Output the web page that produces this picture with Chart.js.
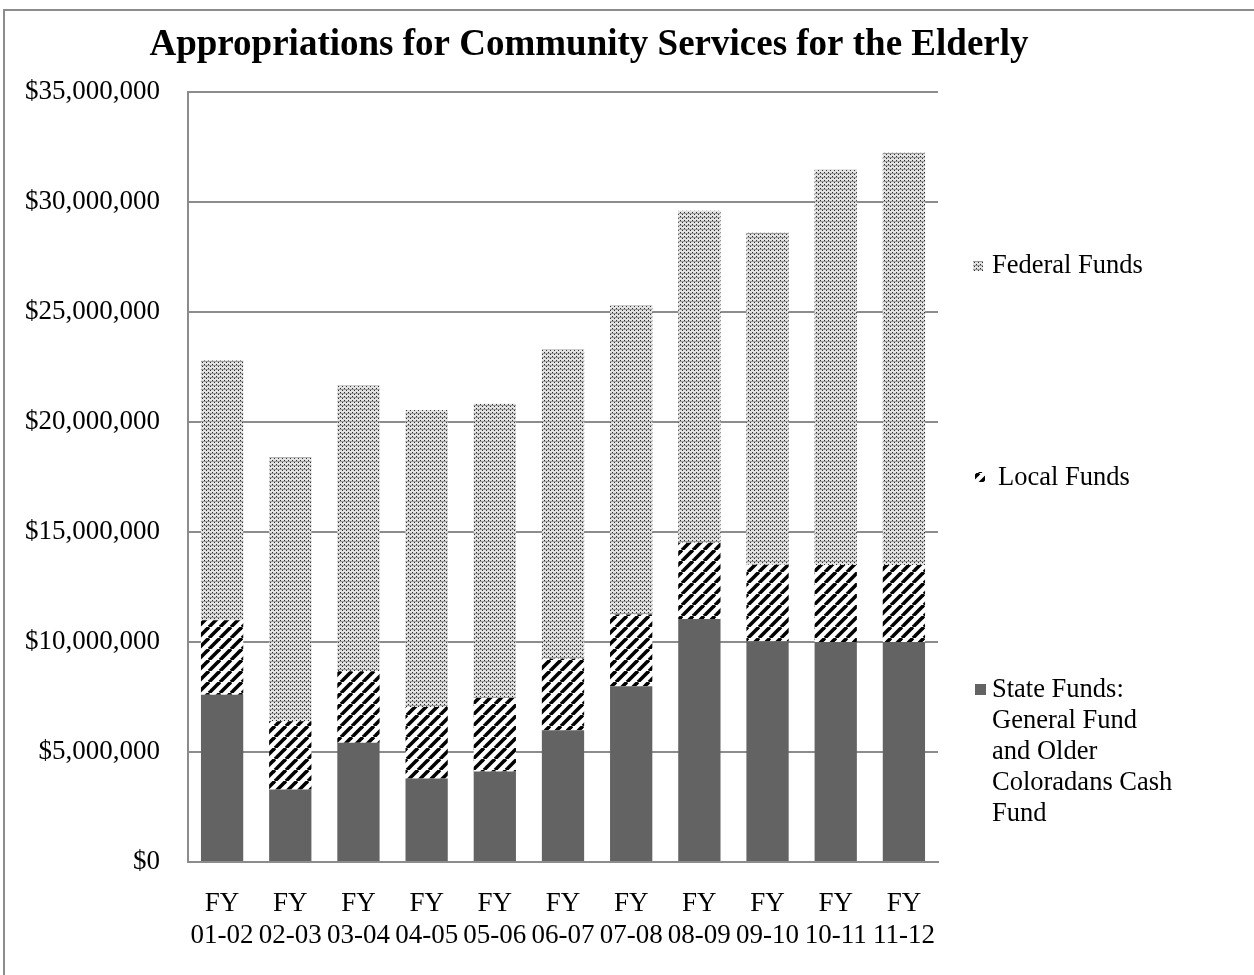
<!DOCTYPE html>
<html>
<head>
<meta charset="utf-8">
<script src="https://cdn.jsdelivr.net/npm/chart.js@4.4.1/dist/chart.umd.min.js"></script>
<style>
  html, body { margin: 0; padding: 0; background: #fff; }
  #wrap { width: 1254px; height: 975px; position: relative; }
</style>
</head>
<body>
<div id="wrap"><canvas id="chart" width="1254" height="975"></canvas></div>
<script>
const years = [
  ["FY", "01-02"], ["FY", "02-03"], ["FY", "03-04"], ["FY", "04-05"],
  ["FY", "05-06"], ["FY", "06-07"], ["FY", "07-08"], ["FY", "08-09"],
  ["FY", "09-10"], ["FY", "10-11"], ["FY", "11-12"]
];
const stateFunds = [7600000, 3300000, 5420000, 3800000, 4110000, 5990000, 7990000, 11050000, 10030000, 10000000, 10000000];
const localFunds = [3390000, 3100000, 3250000, 3250000, 3340000, 3250000, 3260000, 3460000, 3480000, 3500000, 3500000];
const federalFunds = [11810000, 12000000, 12990000, 13500000, 13380000, 14060000, 14050000, 15090000, 15090000, 17970000, 18740000];
const yTicks = [0, 5000000, 10000000, 15000000, 20000000, 25000000, 30000000, 35000000];

const titleText = "Appropriations for Community Services for the Elderly";
const serif = "'Liberation Serif', 'Times New Roman', serif";

function dotPattern() {
  let c = document.createElement("canvas");
  c.width = 4; c.height = 4;
  let x = c.getContext("2d");
  x.fillStyle = "#e2e2e2";
  x.fillRect(0, 0, 4, 4);
  x.fillStyle = "#9a9a9a";
  x.fillRect(0, 1, 4, 1);
  x.fillStyle = "#2e2e2e";
  x.fillRect(0, 0, 1, 1);
  x.fillRect(2, 2, 1, 1);
  return x.createPattern(c, "repeat");
}

function stripePattern() {
  let c = document.createElement("canvas");
  c.width = 11; c.height = 11;
  let x = c.getContext("2d");
  x.fillStyle = "#fff";
  x.fillRect(0, 0, 11, 11);
  x.strokeStyle = "#000";
  x.lineWidth = 3.6;
  [-11, 0, 11].forEach(k => {
    x.beginPath();
    x.moveTo(k, 11);
    x.lineTo(k + 11, 0);
    x.stroke();
  });
  return x.createPattern(c, "repeat");
}

const dots = dotPattern();
const stripes = stripePattern();
const stateColor = "#636363";

// legend drawn by hand, the items sit far apart on the right
const legendItems = [
  { fill: dots, box: [973, 261, 10, 10], x: 992, y: 266, lines: ["Federal Funds"] },
  { fill: stripes, box: [975, 472, 10, 10], x: 998, y: 478, lines: ["Local Funds"] },
  { fill: stateColor, box: [975, 684, 11, 11], x: 992, y: 690,
    lines: ["State Funds:", "General Fund", "and Older", "Coloradans Cash", "Fund"] }
];

const decor = {
  id: "decor",
  beforeDraw(chart) {
    let ctx = chart.ctx;
    ctx.save();
    ctx.fillStyle = "#fff";
    ctx.fillRect(0, 0, chart.width, chart.height);
    ctx.strokeStyle = "#8c8c8c";
    ctx.lineWidth = 2;
    ctx.strokeRect(4, 10, 1400, 1100);
    ctx.restore();
  },
  afterDraw(chart) {
    let ctx = chart.ctx;
    ctx.save();
    ctx.fillStyle = "#000";
    ctx.font = "bold 37px " + serif;
    ctx.textAlign = "center";
    ctx.textBaseline = "middle";
    ctx.fillText(titleText, 589, 45);

    ctx.font = "26.5px " + serif;
    ctx.textAlign = "left";
    legendItems.forEach(item => {
      ctx.fillStyle = item.fill;
      ctx.fillRect(...item.box);
      ctx.fillStyle = "#000";
      item.lines.forEach((line, i) => {
        ctx.fillText(line, item.x, item.y + i * 31);
      });
    });
    ctx.restore();
  }
};

new Chart(document.getElementById("chart"), {
  type: "bar",
  data: {
    labels: years,
    datasets: [
      { label: "State Funds: General Fund and Older Coloradans Cash Fund", data: stateFunds, backgroundColor: stateColor },
      { label: "Local Funds", data: localFunds, backgroundColor: stripes },
      { label: "Federal Funds", data: federalFunds, backgroundColor: dots }
    ]
  },
  options: {
    responsive: false,
    animation: false,
    devicePixelRatio: 1,
    layout: { padding: { top: 92, right: 316, left: 0, bottom: 0 } },
    datasets: {
      bar: { barPercentage: 0.62, categoryPercentage: 1, borderWidth: 0 }
    },
    plugins: {
      legend: { display: false },
      title: { display: false },
      tooltip: { enabled: false }
    },
    scales: {
      x: {
        stacked: true,
        grid: { display: false, drawTicks: false },
        border: { display: true, color: "#8c8c8c", width: 2 },
        ticks: {
          color: "#000",
          font: { family: serif, size: 27, lineHeight: "32px" },
          padding: 26,
          maxRotation: 0,
          autoSkip: false
        },
        afterFit(scale) { scale.height = 113; }
      },
      y: {
        stacked: true,
        min: 0,
        max: 35000000,
        afterBuildTicks(scale) { scale.ticks = yTicks.map(v => ({ value: v })); },
        grid: { color: "#8c8c8c", lineWidth: 2, drawTicks: false },
        border: { display: true, color: "#8c8c8c", width: 2 },
        ticks: {
          color: "#000",
          font: { family: serif, size: 27 },
          padding: 28,
          callback: v => "$" + Number(v).toLocaleString("en-US")
        },
        afterFit(scale) { scale.width = 188; }
      }
    }
  },
  plugins: [decor]
});
</script>
</body>
</html>
